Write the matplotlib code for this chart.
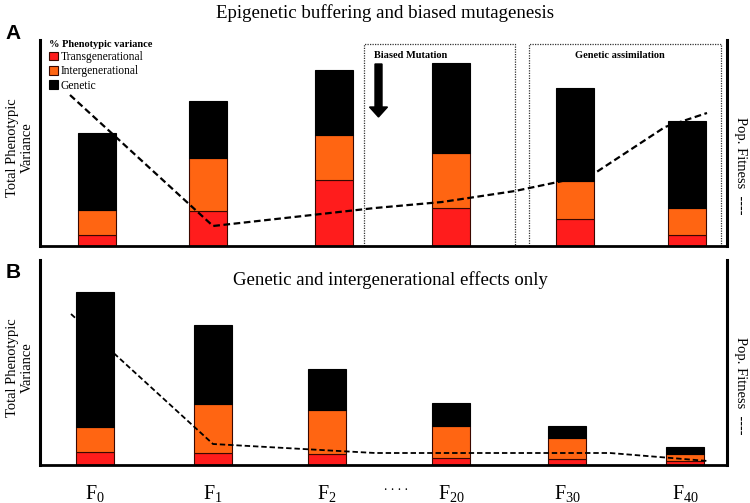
import matplotlib
matplotlib.use("Agg")
import matplotlib.pyplot as plt

plt.rcParams['font.family'] = ['Liberation Serif', 'DejaVu Serif']
plt.rcParams['mathtext.fontset'] = 'custom'
plt.rcParams['mathtext.rm'] = 'Liberation Serif'
plt.rcParams['mathtext.it'] = 'Liberation Serif:italic'

# generaciones
generations = ['$\\mathrm{F}_{0}$', '$\\mathrm{F}_{1}$', '$\\mathrm{F}_{2}$',
               '$\\mathrm{F}_{20}$', '$\\mathrm{F}_{30}$', '$\\mathrm{F}_{40}$']

# panel A - varianza (unidades arbitrarias)
a_trans = [11, 35, 66, 38, 27, 11]
a_inter = [25, 53, 45, 55, 38, 27]
a_genetic = [77, 57, 65, 90, 93, 87]
a_fit_x = [70, 213, 375, 442, 515, 558, 595, 665, 707]
a_fit_y = [151, 20, 38, 44, 55, 64, 73, 119, 133]

# panel B
b_trans = [13, 12, 11, 7, 6, 4]
b_inter = [25, 49, 44, 32, 21, 7]
b_genetic = [135, 79, 41, 23, 12, 7]
b_fit_x = [71, 213, 375, 610, 708]
b_fit_y = [151, 21, 12, 12, 4]

# posiciones de las barras (px)
xpos_a = [97, 208, 334, 451, 575, 687]
xpos_b = [95, 213, 327, 451, 567, 685]

RED = '#ff1c1c'
ORANGE = '#ff6512'
EDGE = '#3a0800'

W, H = 750, 503
fig = plt.figure(figsize=(7.5, 5.03), dpi=100)

def px(x, y):
    return x / W, 1 - y / H

axA = fig.add_axes([40 / W, (H - 246) / H, 687 / W, 206 / H])
axB = fig.add_axes([40 / W, (H - 465) / H, 687 / W, 205 / H])

def draw(ax, xs, tr, it, ge, fx, fy, top, lw):
    b1 = ax.bar(xs, tr, width=38, color=RED, edgecolor=EDGE, linewidth=0.8,
                label='Transgenerational')
    bot = [a for a in tr]
    b2 = ax.bar(xs, it, width=38, bottom=bot, color=ORANGE, edgecolor=EDGE,
                linewidth=0.8, label='Intergenerational')
    bot = [a + b for a, b in zip(tr, it)]
    b3 = ax.bar(xs, ge, width=38, bottom=bot, color='black', edgecolor='black',
                linewidth=0.8, label='Genetic')
    ax.plot(fx, fy, color='black', lw=lw, linestyle=(0, (3, 1.6)), zorder=5)
    ax.set_xlim(40, 727)
    ax.set_ylim(0, top)
    ax.spines['top'].set_visible(False)
    for s in ['left', 'right']:
        ax.spines[s].set_linewidth(2.2)
    ax.spines['bottom'].set_linewidth(2.0)
    ax.set_yticks([])
    ax.tick_params(axis='x', length=0)
    return b1, b2, b3

bars = draw(axA, xpos_a, a_trans, a_inter, a_genetic, a_fit_x, a_fit_y, 206, 1.6)
draw(axB, xpos_b, b_trans, b_inter, b_genetic, b_fit_x, b_fit_y, 205, 1.3)

axA.set_xticks([])
axB.set_xticks(xpos_b)
axB.set_xticklabels(generations, fontsize=14.5)
axB.tick_params(axis='x', pad=13)

# cajas punteadas
for x0, x1 in [(364, 515), (529, 721)]:
    axA.plot([x0, x0, x1, x1], [0, 202, 202, 0], color='#333333', lw=0.9,
             linestyle=(0, (1, 1)), zorder=1)
axA.text(411, 191, 'Biased Mutation', ha='center', va='center',
         fontsize=7.5, fontweight='bold')
axA.text(620, 191, 'Genetic assimilation', ha='center', va='center',
         fontsize=7.5, fontweight='bold')
axA.arrow(378.5, 182, 0, -53, width=7, head_width=18, head_length=10,
          length_includes_head=True, color='black', zorder=4)

# leyenda
leg = axA.legend(handles=list(bars), loc='upper left',
                 bbox_to_anchor=px(44, 35), bbox_transform=fig.transFigure,
                 frameon=False, fontsize=8.3, title='% Phenotypic variance',
                 title_fontproperties={'weight': 'bold', 'size': 7.5},
                 handlelength=0.8, handleheight=0.8, handletextpad=0.25,
                 labelspacing=0.2, borderaxespad=0, alignment='left')

fig.text(*px(385, 13), 'Epigenetic buffering and biased mutagenesis',
         ha='center', va='center', fontsize=13.6)
fig.text(*px(390, 280), 'Genetic and intergenerational effects only',
         ha='center', va='center', fontsize=13.5)
fig.text(*px(13, 33), 'A', ha='center', va='center', fontsize=15,
         fontweight='bold', family='Liberation Sans')
fig.text(*px(13, 272), 'B', ha='center', va='center', fontsize=15,
         fontweight='bold', family='Liberation Sans')

for yc in [148, 368]:
    fig.text(*px(20, yc), 'Total Phenotypic\nVariance', ha='center',
             va='center', rotation=90, fontsize=10.5, linespacing=1.12)

for yc in [166, 386]:
    fig.text(*px(740, yc), 'Pop. Fitness  ----', ha='center', va='center',
             rotation=270, fontsize=10.5)

fig.text(*px(396, 487), '. . . .', ha='center', va='center', fontsize=10)

fig.savefig('out.png', dpi=100)
